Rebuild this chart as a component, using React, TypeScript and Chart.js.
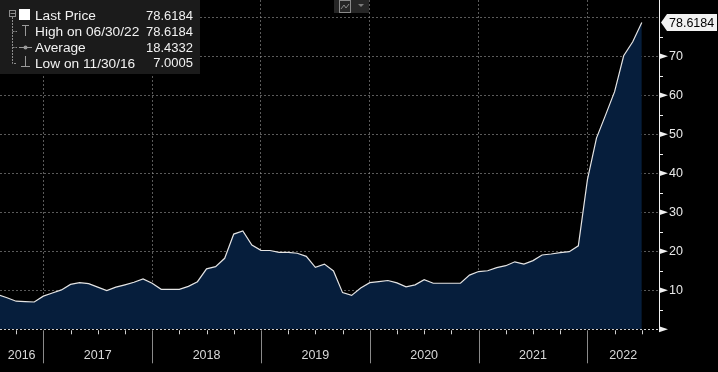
import React, { useEffect, useRef } from 'react';
import { Chart, registerables } from 'chart.js';

Chart.register(...registerables);

// Month-end observations (YYYY-MM)
const MONTHS = [
  '2016-07', '2016-08', '2016-09', '2016-10', '2016-11', '2016-12',
  '2017-01', '2017-02', '2017-03', '2017-04', '2017-05', '2017-06',
  '2017-07', '2017-08', '2017-09', '2017-10', '2017-11', '2017-12',
  '2018-01', '2018-02', '2018-03', '2018-04', '2018-05', '2018-06',
  '2018-07', '2018-08', '2018-09', '2018-10', '2018-11', '2018-12',
  '2019-01', '2019-02', '2019-03', '2019-04', '2019-05', '2019-06',
  '2019-07', '2019-08', '2019-09', '2019-10', '2019-11', '2019-12',
  '2020-01', '2020-02', '2020-03', '2020-04', '2020-05', '2020-06',
  '2020-07', '2020-08', '2020-09', '2020-10', '2020-11', '2020-12',
  '2021-01', '2021-02', '2021-03', '2021-04', '2021-05', '2021-06',
  '2021-07', '2021-08', '2021-09', '2021-10', '2021-11', '2021-12',
  '2022-01', '2022-02', '2022-03', '2022-04', '2022-05', '2022-06',
];

const PRICES = [
  8.9, 8.1, 7.2, 7.1, 7.0005, 8.5,
  9.3, 10.1, 11.5, 11.95, 11.7, 10.8, 9.9, 10.8, 11.4, 12.05, 12.9, 11.8,
  10.25, 10.25, 10.25, 11.0, 12.2, 15.5, 16.05, 18.2, 24.4, 25.2, 21.6, 20.25,
  20.2, 19.7, 19.7, 19.5, 18.7, 15.9, 16.7, 14.95, 9.4, 8.7, 10.6, 11.95,
  12.2, 12.5, 11.9, 10.9, 11.4, 12.7, 11.8, 11.8, 11.8, 11.8, 13.9, 14.8,
  15.0, 15.8, 16.3, 17.3, 16.7, 17.6, 19.05, 19.3, 19.65, 19.9, 21.4, 38.3,
  49.0, 54.9, 60.9, 70.1, 73.7, 78.6184,
];

const Y_TICKS = [0, 10, 20, 30, 40, 50, 60, 70, 80];
const Y_MINOR_TICKS = [5, 15, 25, 35, 45, 55, 65, 75];
const YEAR_LABELS = ['2016', '2017', '2018', '2019', '2020', '2021', '2022'];

const LEGEND_LABELS = ['Last Price', 'High on 06/30/22', 'Average', 'Low on 11/30/16'];
const LEGEND_VALUES = ['78.6184', '78.6184', '18.4332', '7.0005'];

// visible x range in fractional years
const X_MIN = 2016.602;
const X_MAX = 2022.658;

const FONT = '"Liberation Sans", Arial, sans-serif';
const GRID = 'rgba(150,150,150,0.6)';

const monthEnd = (m: string) => {
  const [yy, mm] = m.split('-').map(Number);
  return yy + mm / 12;
};

const yearCenters = YEAR_LABELS.map((l) => {
  const y = Number(l);
  return (Math.max(X_MIN, y) + Math.min(X_MAX, y + 1)) / 2;
});
const yearBounds = YEAR_LABELS.map(Number).filter((y) => y > X_MIN && y < X_MAX);
const X_TICKS = [...yearBounds, ...yearCenters].sort((a, b) => a - b);

const decor = {
  id: 'decor',
  beforeDraw(chart: any) {
    const { ctx, width, height } = chart;
    ctx.save();
    ctx.fillStyle = '#000';
    ctx.fillRect(0, 0, width, height);
    ctx.restore();
  },
  afterDraw(chart: any) {
    const { ctx, chartArea: a } = chart;
    const xs = chart.scales.x;
    const ys = chart.scales.y;
    ctx.save();
    ctx.lineWidth = 1;

    // x axis: quarter ticks & year separators
    for (let q = Math.ceil(X_MIN * 4); q / 4 <= X_MAX; q++) {
      const px = Math.round(xs.getPixelForValue(q / 4)) + 0.5;
      ctx.beginPath();
      if (q % 4 === 0) {
        ctx.strokeStyle = '#8a8a8a';
        ctx.moveTo(px, a.bottom + 1);
        ctx.lineTo(px, a.bottom + 34);
      } else {
        ctx.strokeStyle = '#d0d0d0';
        ctx.moveTo(px, a.bottom + 1);
        ctx.lineTo(px, a.bottom + 5);
      }
      ctx.stroke();
    }

    // y axis: minor ticks
    ctx.strokeStyle = '#f0f0f0';
    Y_MINOR_TICKS.forEach((v) => {
      const py = Math.round(ys.getPixelForValue(v)) + 0.5;
      ctx.beginPath();
      ctx.moveTo(a.right, py);
      ctx.lineTo(a.right + 4, py);
      ctx.stroke();
    });
    // y axis: triangle markers
    ctx.fillStyle = '#f0f0f0';
    Y_TICKS.filter((v) => v < 80).forEach((v) => {
      const py = ys.getPixelForValue(v);
      ctx.beginPath();
      ctx.moveTo(a.right, py - 3);
      ctx.lineTo(a.right + 9, py);
      ctx.lineTo(a.right, py + 3);
      ctx.closePath();
      ctx.fill();
    });

    // last price tag
    const last = PRICES[PRICES.length - 1];
    const ly = ys.getPixelForValue(last);
    ctx.fillStyle = '#f2f2f2';
    ctx.beginPath();
    ctx.moveTo(a.right + 2, ly);
    ctx.lineTo(a.right + 8, ly - 8.5);
    ctx.lineTo(chart.width - 1, ly - 8.5);
    ctx.lineTo(chart.width - 1, ly + 8.5);
    ctx.lineTo(a.right + 8, ly + 8.5);
    ctx.closePath();
    ctx.fill();
    ctx.fillStyle = '#000';
    ctx.font = `12.5px ${FONT}`;
    ctx.textBaseline = 'middle';
    ctx.textAlign = 'left';
    ctx.fillText(last.toFixed(4), a.right + 10, ly + 1);

    // legend panel
    ctx.fillStyle = '#1b1b1b';
    ctx.fillRect(0, 0, 200, 74);
    const rowY = [15.5, 31.3, 47.1, 62.9];
    // tree
    ctx.strokeStyle = '#8c8c8c';
    ctx.strokeRect(9.5, 10.5, 6, 6);
    ctx.beginPath();
    ctx.moveTo(10.5, 13.5);
    ctx.lineTo(15, 13.5);
    ctx.stroke();
    ctx.setLineDash([2, 1]);
    ctx.beginPath();
    ctx.moveTo(12.5, 17);
    ctx.lineTo(12.5, 63.5);
    ctx.lineTo(17, 63.5);
    ctx.moveTo(12.5, 31.5);
    ctx.lineTo(17, 31.5);
    ctx.moveTo(12.5, 47.5);
    ctx.lineTo(17, 47.5);
    ctx.stroke();
    ctx.setLineDash([]);
    // icons
    ctx.fillStyle = '#ffffff';
    ctx.fillRect(19, 9, 11, 11);
    ctx.strokeStyle = '#9a9a9a';
    ctx.beginPath();
    ctx.moveTo(22, 25.5);
    ctx.lineTo(29, 25.5);
    ctx.moveTo(25.5, 25.5);
    ctx.lineTo(25.5, 36);
    ctx.moveTo(19, 47.5);
    ctx.lineTo(32, 47.5);
    ctx.moveTo(25.5, 56);
    ctx.lineTo(25.5, 66.5);
    ctx.moveTo(21, 66.5);
    ctx.lineTo(30, 66.5);
    ctx.stroke();
    ctx.fillStyle = '#9a9a9a';
    ctx.beginPath();
    ctx.arc(25.5, 47.5, 2, 0, Math.PI * 2);
    ctx.fill();
    // texts
    ctx.font = `13.7px ${FONT}`;
    ctx.fillStyle = '#f2f2f2';
    ctx.textBaseline = 'middle';
    LEGEND_LABELS.forEach((t, i) => {
      ctx.textAlign = 'left';
      ctx.fillText(t, 35, rowY[i] + 1);
    });
    ctx.font = `13px ${FONT}`;
    LEGEND_VALUES.forEach((t, i) => {
      ctx.textAlign = 'right';
      ctx.fillText(t, 193, rowY[i] + 1);
    });

    // chart type button (top centre)
    ctx.fillStyle = '#262626';
    ctx.fillRect(334, 0, 35, 13);
    ctx.strokeStyle = '#8a8a8a';
    ctx.strokeRect(339.5, 0.5, 11, 12);
    ctx.beginPath();
    ctx.moveTo(341, 9);
    ctx.lineTo(344, 5);
    ctx.lineTo(346, 8);
    ctx.lineTo(349, 4);
    ctx.stroke();
    ctx.fillStyle = '#7a7a7a';
    ctx.beginPath();
    ctx.moveTo(358, 4);
    ctx.lineTo(364, 4);
    ctx.lineTo(361, 7);
    ctx.closePath();
    ctx.fill();

    ctx.restore();
  },
};

export default function App() {
  const ref = useRef<HTMLCanvasElement>(null);

  useEffect(() => {
    document.body.style.margin = '0';
    document.body.style.background = '#000';
    const canvas = ref.current!;
    const chart = new Chart(canvas, {
      type: 'line',
      data: {
        datasets: [
          {
            data: MONTHS.map((m, i) => ({ x: monthEnd(m), y: PRICES[i] })),
            borderColor: '#e4e4e4',
            borderWidth: 1.2,
            backgroundColor: '#061e3c',
            fill: 'origin',
            pointRadius: 0,
            tension: 0,
          },
        ],
      },
      options: {
        animation: false,
        responsive: false,
        devicePixelRatio: 1,
        layout: { padding: 0 },
        plugins: { legend: { display: false }, tooltip: { enabled: false } },
        scales: {
          x: {
            type: 'linear',
            position: 'bottom',
            min: X_MIN,
            max: X_MAX,
            z: 1,
            afterBuildTicks: (s: any) => {
              s.ticks = X_TICKS.map((v) => ({ value: v }));
            },
            afterFit: (s: any) => {
              s.height = 42.7;
              s.paddingLeft = 0;
              s.paddingRight = 0;
              s.paddingTop = 0;
              s.paddingBottom = 0;
            },
            grid: {
              color: (c: any) => (c.tick && Number.isInteger(c.tick.value) ? GRID : 'rgba(0,0,0,0)'),
              drawTicks: false,
              lineWidth: 1,
            },
            border: { display: false, dash: [2, 2] },
            ticks: {
              color: '#d8d8d8',
              font: { family: FONT, size: 12.5 },
              padding: 19,
              maxRotation: 0,
              autoSkip: false,
              callback: (v: any) => {
                const i = yearCenters.findIndex((c) => Math.abs(c - v) < 1e-6);
                return i >= 0 ? YEAR_LABELS[i] : '';
              },
            },
          },
          y: {
            type: 'linear',
            position: 'right',
            min: 0,
            max: 84.4,
            z: 1,
            afterBuildTicks: (s: any) => {
              s.ticks = Y_TICKS.map((v) => ({ value: v }));
            },
            afterFit: (s: any) => {
              s.width = 59;
              s.paddingLeft = 0;
              s.paddingRight = 0;
              s.paddingTop = 0;
              s.paddingBottom = 0;
            },
            grid: {
              color: (c: any) => (c.tick && c.tick.value === 0 ? '#cfcfcf' : GRID),
              drawTicks: false,
              lineWidth: 1,
            },
            border: { display: true, color: '#f0f0f0', width: 1, dash: [2, 2] },
            ticks: {
              color: '#e8e8e8',
              font: { family: FONT, size: 12.5 },
              padding: 10,
              callback: (v: any) => (v === 0 || v === 80 ? '' : String(v)),
            },
          },
        },
      },
      plugins: [decor],
    } as any);
    return () => chart.destroy();
  }, []);

  return (
    <div style={{ position: 'fixed', left: 0, top: 0, width: 718, height: 372, background: '#000' }}>
      <canvas ref={ref} width={718} height={372} style={{ width: 718, height: 372, display: 'block' }} />
    </div>
  );
}
